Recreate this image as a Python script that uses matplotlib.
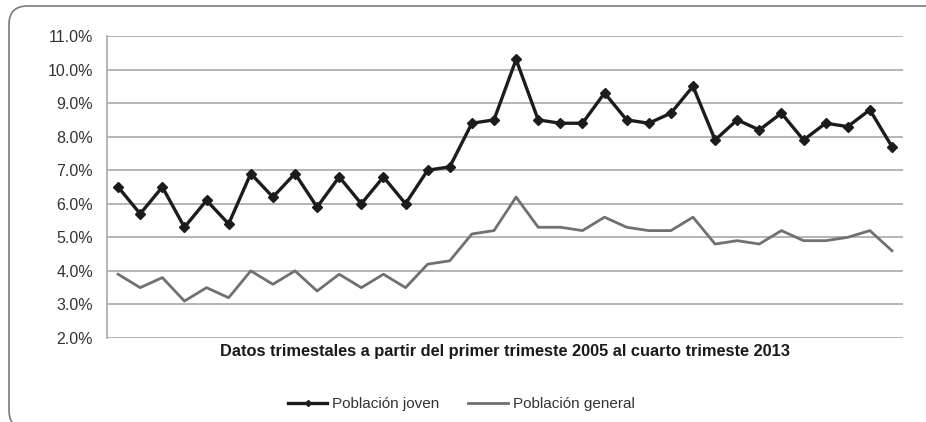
import matplotlib.pyplot as plt
import matplotlib
from matplotlib.patches import FancyBboxPatch
from matplotlib.ticker import FuncFormatter
import numpy as np

matplotlib.rcParams['font.family'] = ['Liberation Sans', 'DejaVu Sans']

# Quarterly data, 2005 Q1 .. 2013 Q4 (36 quarters)
joven = [6.5, 5.7, 6.5, 5.3, 6.1, 5.4, 6.9, 6.2, 6.9, 5.9, 6.8, 6.0,
         6.8, 6.0, 7.0, 7.1, 8.4, 8.5, 10.3, 8.5, 8.4, 8.4, 9.3, 8.5,
         8.4, 8.7, 9.5, 7.9, 8.5, 8.2, 8.7, 7.9, 8.4, 8.3, 8.8, 7.7]
general = [3.9, 3.5, 3.8, 3.1, 3.5, 3.2, 4.0, 3.6, 4.0, 3.4, 3.9, 3.5,
           3.9, 3.5, 4.2, 4.3, 5.1, 5.2, 6.2, 5.3, 5.3, 5.2, 5.6, 5.3,
           5.2, 5.2, 5.6, 4.8, 4.9, 4.8, 5.2, 4.9, 4.9, 5.0, 5.2, 4.6]
y_ticks = [2, 3, 4, 5, 6, 7, 8, 9, 10, 11]
x_label = 'Datos trimestales a partir del primer trimeste 2005 al cuarto trimeste 2013'
labels = ['Población joven', 'Población general']

x = np.arange(len(joven))

fig = plt.figure(figsize=(9.26, 4.22), dpi=100)
ax = fig.add_axes([0.1156, 0.1991, 0.8596, 0.7156])

# outer rounded frame (right and bottom edges fall outside the picture)
y0 = -7 / 422
y1 = 1 - 6 / 422
frame = FancyBboxPatch((9 / 926, y0), 1.1, y1 - y0,
                       boxstyle='round,pad=0,rounding_size=0.02',
                       transform=fig.transFigure, fill=False,
                       edgecolor='#7a7a7a', linewidth=1.2,
                       mutation_aspect=926 / 422)
fig.patches.append(frame)

ax.plot(x, general, color='#707070', lw=2.0, solid_joinstyle='round',
        label=labels[1], zorder=3)
ax.plot(x, joven, color='#1c1c1c', lw=2.4, marker='D', ms=5.5,
        solid_joinstyle='round', label=labels[0], zorder=4)

ax.set_xlim(-0.5, len(joven) - 0.5)
ax.set_ylim(2, 11)
ax.set_yticks(y_ticks)
ax.yaxis.set_major_formatter(FuncFormatter(lambda v, p: '{:.1f}%'.format(v)))
ax.set_xticks([])
ax.tick_params(axis='y', length=0, pad=10, labelsize=11.5, labelcolor='#333333')

ax.grid(True, axis='y', color='#a8a8a8', lw=1.2)
ax.set_axisbelow(True)
for s in ['top', 'right', 'bottom']:
    ax.spines[s].set_visible(False)
ax.spines['left'].set_color('#a8a8a8')
ax.spines['left'].set_linewidth(1.2)

ax.set_xlabel(x_label, fontsize=11.8, fontweight='bold', color='#1a1a1a',
              labelpad=4)

# legend with joven first
h, l = ax.get_legend_handles_labels()
fig.legend(h[::-1], l[::-1], loc='center', bbox_to_anchor=(0.498, 1 - 404 / 422),
           ncol=2, frameon=False, fontsize=11, handlelength=2.6,
           columnspacing=1.9, handletextpad=0.3, markerscale=0.55,
           labelcolor='#333333')

plt.savefig('out.png', dpi=100)
